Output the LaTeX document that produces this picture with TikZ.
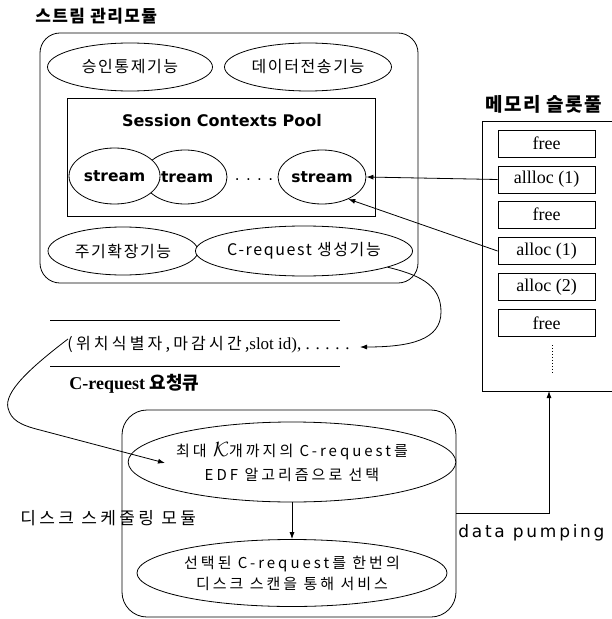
\documentclass[tikz,border=0pt]{standalone}
\usepackage{fontspec}
\setmainfont{Liberation Serif}
\newfontfamily\kr{Noto Sans CJK KR}
\newfontfamily\krs[LetterSpace=10]{Noto Sans CJK KR}
\newfontfamily\krw[LetterSpace=20]{Noto Sans CJK KR}
\newfontfamily\krq[LetterSpace=20]{Noto Sans CJK KR}
\newfontfamily\krt[LetterSpace=8]{Noto Sans CJK KR}
\newfontfamily\dv{DejaVu Sans}
\newfontfamily\dvs[LetterSpace=16]{DejaVu Sans}
\usetikzlibrary{arrows.meta,shapes.geometric}
\newcommand\fsz[2]{\fontsize{#1}{#2}\selectfont}
\begin{document}
\begin{tikzpicture}[x=1bp,y=-1bp,line width=0.8bp,
  ell/.style={draw,ellipse,inner sep=0pt,fill=white,align=center},
  krl/.style={font=\krs\fsz{16bp}{18bp}},
  strm/.style={font=\dv\bfseries\fsz{15.5bp}{18bp}},
  slot/.style={draw,minimum width=97bp,minimum height=27bp,inner sep=0pt,font=\fsz{18bp}{20bp}},
  arr/.style={-{Latex[length=7bp,width=5bp]}},
  ttl/.style={anchor=west,inner sep=0pt,font=\krt\bfseries\fsz{17bp}{20bp}}]
\useasboundingbox (0,0) rectangle (612,619);
% ---- stream management module
\node[ttl] (t1) at (35,16) {스트림 관리모듈};
\node[draw,rounded corners=20bp,minimum width=378bp,minimum height=250bp,inner sep=0pt] (smod) at (229,158) {};
\node[ell,minimum width=165bp,minimum height=48bp,krl] (e1) at (130,67) {승인통제기능};
\node[ell,minimum width=167bp,minimum height=48bp,krl] (e2) at (308,67) {데이터전송기능};
\node[draw,minimum width=308bp,minimum height=118bp,inner sep=0pt] (pool) at (221,157) {};
\node[font=\dv\bfseries\fsz{16bp}{18bp}] (pt) at (222,121) {Session Contexts Pool};
\node[ell,minimum width=84bp,minimum height=54bp] (s2) at (185,177) {};
\node[strm] (s2t) at (182.5,177) {stream};
\node[ell,minimum width=91bp,minimum height=56bp,strm] (s1) at (114.5,176) {stream};
\node[font=\dv\fsz{15bp}{18bp}] (dots) at (254,180) {. . . .};
\node[ell,minimum width=88bp,minimum height=54bp,strm] (s3) at (322,177) {stream};
\node[ell,minimum width=150bp,minimum height=48bp,krl] (b1) at (123,251) {주기확장기능};
\node[ell,minimum width=208bp,minimum height=50bp,krl] (b2) at (304,251) {C-request 생성기능};
% ---- memory slot pool
\node[ttl,font=\krt\bfseries\fsz{19bp}{21bp}] (t2) at (485,104) {메모리 슬롯풀};
\coordinate (mtr) at (612,121);
\coordinate (mtl) at (482,121);
\coordinate (mbl) at (482,391);
\coordinate (mbr) at (612,391);
\draw (mtr) -- (mtl) -- (mbl) -- (mbr);
\coordinate (memb) at (549,391);
\node[slot] (m1) at (546.5,143.5) {free};
\node[slot] (m2) at (546.5,179.5) {allloc (1)};
\node[slot] (m3) at (546.5,214.5) {free};
\node[slot] (m4) at (546.5,251) {alloc (1)};
\node[slot] (m5) at (546.5,287) {alloc (2)};
\node[slot] (m6) at (546.5,323) {free};
\coordinate (dt) at (552,345);
\coordinate (db) at (552,372);
\draw[dotted,line width=1bp] (dt) -- (db);
\draw[arr] (m2.west) -- (s3.east);
\draw[arr] (m4.west) -- (s3.-40);
% ---- C-request queue
\coordinate (ql1a) at (50,320); \coordinate (ql1b) at (340,320);
\coordinate (ql2a) at (50,366); \coordinate (ql2b) at (340,366);
\draw (ql1a) -- (ql1b);
\draw (ql2a) -- (ql2b);
\node[anchor=west,inner sep=0pt] (q) at (67,345) {\krq\fsz{16bp}{17bp}(위치식별자,마감시간,\rmfamily\fsz{17bp}{18bp}slot id), . . . . .};
\node[anchor=west,inner sep=0pt,font=\bfseries\fsz{18bp}{20bp}] (ql) at (69,384) {C-request {\kr 요청큐}};
\coordinate (qin) at (360,347);
\coordinate (qs) at (68,339);
\draw[arr] (b2.-11) .. controls (425,276) and (441,288) .. (441,312) .. controls (441,340) and (410,347) .. (qin);
% ---- disk scheduling module
\node[draw,rounded corners=25bp,minimum width=334bp,minimum height=207bp,inner sep=0pt] (dmod) at (289,513.5) {};
\node[ell,minimum width=291bp,minimum height=80bp,font=\krw\fsz{15bp}{24bp}] (k1) at (292,462) {최대 {\fsz{19bp}{20bp}$\mathcal{K}$}개까지의 C-request를\\EDF 알고리즘으로 선택};
\node[ell,minimum width=310bp,minimum height=67bp,font=\krw\fsz{15bp}{21bp}] (k2) at (292,573) {선택된 C-request를 한번의\\디스크 스캔을 통해 서비스};
\draw[arr] (k1.south) -- (k2.north);
\coordinate (k1in) at (165,463);
\draw[arr] (qs) .. controls (30,368) and (4,392) .. (8,408) .. controls (11,420) and (20,425) .. (40,430) -- (k1in);
\node[anchor=west,inner sep=0pt,font=\krw\fsz{17bp}{19bp}] (dl) at (20,518) {디스크 스케줄링 모듈};
\draw[arr] (dmod.east) -| (memb);
\node[anchor=west,inner sep=0pt,font=\dvs\fsz{17bp}{19bp}] (dp) at (458,533) {data pumping};
\end{tikzpicture}
\end{document}
